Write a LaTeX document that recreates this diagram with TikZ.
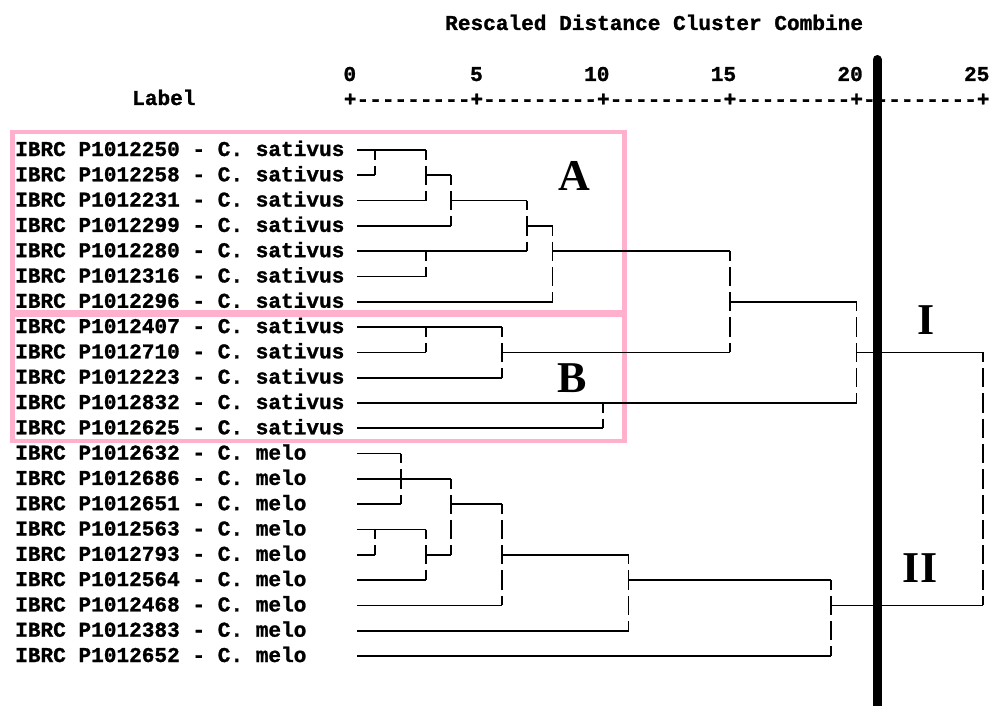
\documentclass[tikz,border=0pt]{standalone}
\usepackage{fontspec}
\newfontfamily\spssfont{Liberation Mono}[BoldFont=Liberation Mono Bold, BoldFeatures={FakeBold=1.2}]
\newfontfamily\letterfont{Liberation Serif}
\definecolor{pinkbox}{RGB}{255,176,204}
\begin{document}
\begin{tikzpicture}[x=1pt,y=-1pt,
  hl/.style={line width=1.7pt},
  vl/.style={line width=1.7pt, dash pattern=on 19.3pt off 6pt, dash phase=9.65pt},
  mono/.style={inner sep=0pt, font=\spssfont\bfseries\fontsize{21.1}{25}\selectfont},
  lbl/.style={mono, anchor=base west},
  num/.style={mono, anchor=base east},
  grp/.style={inner sep=0pt, font=\letterfont\bfseries\fontsize{44}{48}\selectfont},
  box/.style={draw=pinkbox, line width=4.5pt}]
\useasboundingbox (0,0) rectangle (990,706);
% pink boxes
\draw[box] (12.5,132) rectangle (624.5,312.5);
\draw[box] (12.5,315) rectangle (624.5,441);
% header and axis
\node[lbl] (head) at (445,30) {Rescaled Distance Cluster Combine};
\node[lbl] (labhead) at (132,105) {Label};
\node[lbl] (axis) at (343.67,106) {+---------+---------+---------+---------+---------+};
\foreach \k in {0,1,...,25} { \coordinate (d\k) at ({350+25.33*\k},0); }
\foreach \k in {0,5,10,15,20,25} { \node[num] (n\k) at ({350+25.33*\k+6.33},81) {\k}; }
% leaf labels
\foreach \i/\t in {1/IBRC P1012250 - C. sativus,2/IBRC P1012258 - C. sativus,3/IBRC P1012231 - C. sativus,
  4/IBRC P1012299 - C. sativus,5/IBRC P1012280 - C. sativus,6/IBRC P1012316 - C. sativus,
  7/IBRC P1012296 - C. sativus,8/IBRC P1012407 - C. sativus,9/IBRC P1012710 - C. sativus,
  10/IBRC P1012223 - C. sativus,11/IBRC P1012832 - C. sativus,12/IBRC P1012625 - C. sativus,
  13/IBRC P1012632 - C. melo,14/IBRC P1012686 - C. melo,15/IBRC P1012651 - C. melo,
  16/IBRC P1012563 - C. melo,17/IBRC P1012793 - C. melo,18/IBRC P1012564 - C. melo,
  19/IBRC P1012468 - C. melo,20/IBRC P1012383 - C. melo,21/IBRC P1012652 - C. melo}{
  \node[lbl] (L\i) at (15,{150+25.3*(\i-1)+6}) {\t};
  \coordinate (s\i) at (357,{150+25.3*(\i-1)});
}
% cluster A
\draw[hl] (s1) -- (s1-|d3);
\draw[hl] (s2) -- (s2-|d1);
\draw[vl] (s1-|d1) -- (s2-|d1);
\draw[hl] (s3) -- (s3-|d3);
\draw[vl] (s1-|d3) -- (s3-|d3);
\draw[hl] (s2-|d3) -- (s2-|d4);
\draw[hl] (s4) -- (s4-|d4);
\draw[vl] (s2-|d4) -- (s4-|d4);
\draw[hl] (s3-|d4) -- (s3-|d7);
\draw[hl] (s5) -- (s5-|d7);
\draw[hl] (s6) -- (s6-|d3);
\draw[vl] (s5-|d3) -- (s6-|d3);
\draw[vl] (s3-|d7) -- (s5-|d7);
\draw[hl] (s4-|d7) -- (s4-|d8);
\draw[hl] (s7) -- (s7-|d8);
\draw[vl] (s4-|d8) -- (s7-|d8);
\draw[hl] (s5-|d8) -- (s5-|d15);
% cluster B
\draw[hl] (s8) -- (s8-|d6);
\draw[hl] (s9) -- (s9-|d3);
\draw[vl] (s8-|d3) -- (s9-|d3);
\draw[hl] (s10) -- (s10-|d6);
\draw[vl] (s8-|d6) -- (s10-|d6);
\draw[hl] (s9-|d6) -- (s9-|d15);
\draw[vl] (s5-|d15) -- (s9-|d15);
\draw[hl] (s7-|d15) -- (s7-|d20);
\draw[hl] (s11) -- (s11-|d20);
\draw[hl] (s12) -- (s12-|d10);
\draw[vl] (s11-|d10) -- (s12-|d10);
\draw[vl] (s7-|d20) -- (s11-|d20);
\draw[hl] (s9-|d20) -- (s9-|d25);
% melo
\draw[hl] (s13) -- (s13-|d2);
\draw[hl] (s14) -- (s14-|d4);
\draw[hl] (s15) -- (s15-|d2);
\draw[vl] (s13-|d2) -- (s15-|d2);
\draw[hl] (s16) -- (s16-|d3);
\draw[hl] (s17) -- (s17-|d1);
\draw[vl] (s16-|d1) -- (s17-|d1);
\draw[hl] (s18) -- (s18-|d3);
\draw[vl] (s16-|d3) -- (s18-|d3);
\draw[hl] (s17-|d3) -- (s17-|d4);
\draw[vl] (s14-|d4) -- (s17-|d4);
\draw[hl] (s15-|d4) -- (s15-|d6);
\draw[hl] (s19) -- (s19-|d6);
\draw[vl] (s15-|d6) -- (s19-|d6);
\draw[hl] (s17-|d6) -- (s17-|d11);
\draw[hl] (s20) -- (s20-|d11);
\draw[vl] (s17-|d11) -- (s20-|d11);
\draw[hl] (s18-|d11) -- (s18-|d19);
\draw[hl] (s21) -- (s21-|d19);
\draw[vl] (s18-|d19) -- (s21-|d19);
\draw[hl] (s19-|d19) -- (s19-|d25);
\draw[vl] (s9-|d25) -- (s19-|d25);
% cut line
\coordinate (cuttop) at (877,59.5);
\coordinate (cutbot) at (877,720);
\draw[line width=9pt, line cap=round] (cuttop) -- (cutbot);
% group letters
\node[grp] (gA) at (574,176) {A};
\node[grp] (gB) at (572,378) {B};
\node[grp] (gI) at (926,320) {I};
\node[grp] (gII) at (920,568) {II};
\end{tikzpicture}
\end{document}
